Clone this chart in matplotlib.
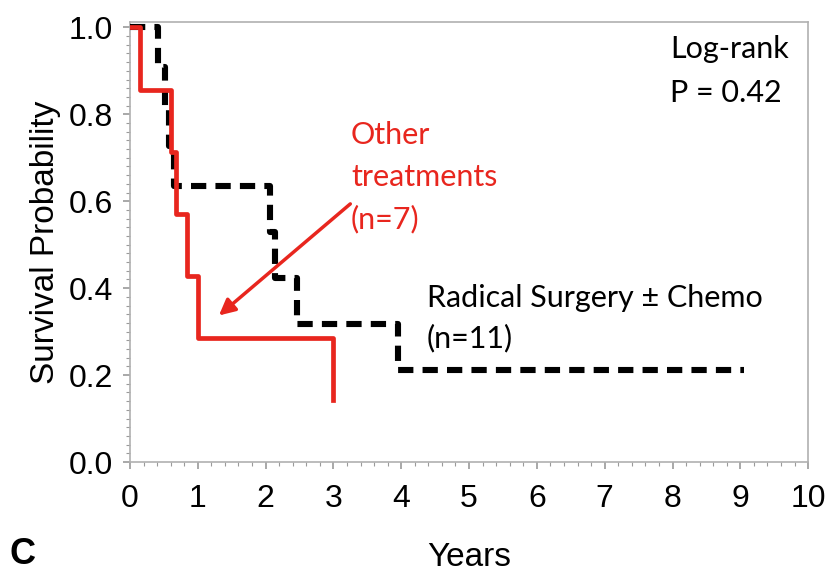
import matplotlib
matplotlib.use('Agg')
import matplotlib.pyplot as plt
from matplotlib.ticker import MultipleLocator

# Kaplan-Meier steps
other_t = [0, 0.15, 0.60, 0.68, 0.84, 1.0, 3.0]
other_s = [1.0, 0.857, 0.714, 0.571, 0.429, 0.286, 0.143]

radical_t = [0, 0.42, 0.51, 0.57, 0.65, 2.06, 2.14, 2.47, 3.95, 9.05]
radical_s = [1.0, 0.909, 0.818, 0.727, 0.636, 0.530, 0.424, 0.318, 0.212, 0.212]

xticks = list(range(0, 11))
yticks = [0.0, 0.2, 0.4, 0.6, 0.8, 1.0]

red = '#e8261e'
note_font = 'Lato'

def main():
  fig = plt.figure(figsize=(8.28, 5.75), dpi=100)
  ax = fig.add_axes([0.157, 0.1965, 0.819, 0.765])

  ax.step(radical_t, radical_s, where='post', color='black', lw=4.4,
          linestyle=(0, (2.5, 1.5)), zorder=3)
  ax.step(other_t, other_s, where='post', color=red, lw=3.4, zorder=4)

  ax.set_xlim(0, 10)
  ax.set_ylim(0, 1.012)
  ax.set_xticks(xticks)
  ax.set_yticks(yticks)
  ax.set_yticklabels(['%.1f' % v for v in yticks])
  ax.xaxis.set_minor_locator(MultipleLocator(0.2))
  ax.yaxis.set_minor_locator(MultipleLocator(0.02))
  ax.tick_params(which='both', direction='out', color='#9a9a9a')
  ax.tick_params(which='major', length=5, width=1.2, labelsize=23, pad=7)
  ax.tick_params(axis='x', which='major', pad=11)
  ax.tick_params(which='minor', length=3, width=0.8)
  for lab in ax.get_xticklabels() + ax.get_yticklabels():
    lab.set_family('Liberation Sans')
  for s in ax.spines.values():
    s.set_color('#b0b0b0')
    s.set_linewidth(1.2)

  ax.set_ylabel('Survival Probability', fontsize=24, family='Liberation Sans', labelpad=6)
  ax.set_xlabel('Years', fontsize=24, family='Liberation Sans', labelpad=20)
  fig.text(0.012, 0.02, 'C', fontsize=26, fontweight='bold', family='Liberation Sans')

  # annotations
  ax.text(7.97, 0.90, 'Log-rank\nP = 0.42', fontsize=22, family=note_font,
          va='center', ha='left', linespacing=1.7)
  ax.text(3.26, 0.655, 'Other\ntreatments\n(n=7)', fontsize=22, family=note_font,
          color=red, va='center', ha='left', linespacing=1.6)
  ax.text(4.38, 0.33, 'Radical Surgery \u00b1 Chemo\n(n=11)', fontsize=22,
          family=note_font, va='center', ha='left', linespacing=1.5)
  ax.annotate('', xy=(1.28, 0.333), xytext=(3.28, 0.598),
              arrowprops=dict(arrowstyle='-|>', color=red, lw=2.5,
                              mutation_scale=24), zorder=5)

  fig.savefig('out.png', dpi=100)

if __name__ == "__main__":
  main()
